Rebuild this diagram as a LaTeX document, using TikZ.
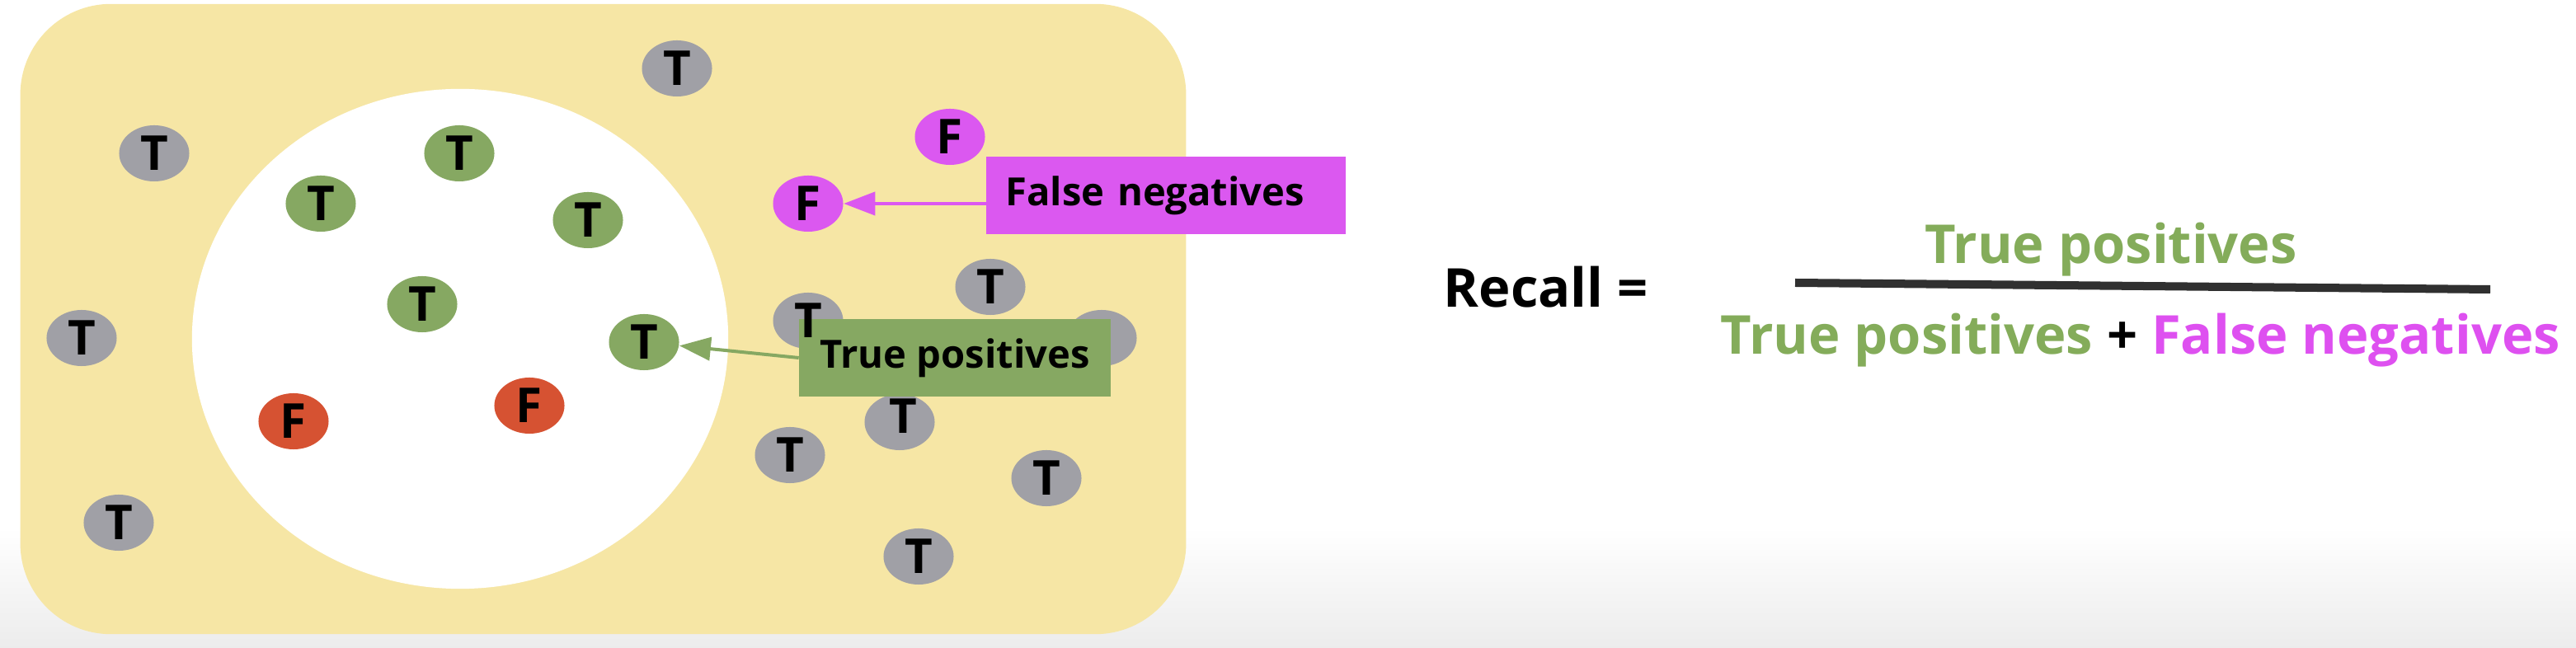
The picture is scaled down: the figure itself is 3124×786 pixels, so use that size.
\documentclass[tikz,border=0pt]{standalone}
\usepackage{fontspec}
\setmainfont{Open Sans}
\usetikzlibrary{arrows.meta,positioning,shapes.geometric}
\definecolor{yc}{RGB}{246,230,165}
\definecolor{gyc}{RGB}{160,160,166}
\definecolor{gnc}{RGB}{134,168,98}
\definecolor{puc}{RGB}{219,88,240}
\definecolor{rdc}{RGB}{214,82,50}
\definecolor{tpc}{RGB}{132,172,90}
\definecolor{fnc}{RGB}{222,80,240}
\definecolor{barc}{RGB}{48,48,48}
\definecolor{fadec}{RGB}{236,236,236}
\tikzset{dot/.style={ellipse,minimum width=8.5mm,minimum height=6.8mm,inner sep=0pt,font=\bfseries\fontsize{16.6}{18}\selectfont},
 gy/.style={dot,fill=gyc},gn/.style={dot,fill=gnc},pu/.style={dot,fill=puc},rd/.style={dot,fill=rdc},
 tag/.style={rectangle,minimum height=9.3mm,inner ysep=0pt,font=\bfseries\fontsize{13.4}{15}\selectfont},
 arr/.style={-{Triangle[length=3.8mm,width=2.8mm]},line width=.4mm},
 eq/.style={inner sep=0pt,font=\bfseries\fontsize{18.5}{20}\selectfont}}
\begin{document}
\begin{tikzpicture}[x=.01cm,y=-.01cm]
\useasboundingbox (0,0) rectangle (3124,786);
\shade[top color=white,bottom color=fadec] (0,640) rectangle (3124,786);
\node[rectangle,rounded corners=11mm,fill=yc,minimum width=14.13cm,minimum height=7.64cm,inner sep=0pt] (pool) at (731.5,387) {};
\node[ellipse,fill=white,minimum width=6.5cm,minimum height=6.06cm,inner sep=0pt] (sel) at (558,411) {};
\node[gy] (t1) at (821,83) {T};\node[gy] (t2) at (187,186) {T};\node[gy] (t3) at (99,410) {T};\node[gy] (t4) at (144,634) {T};
\node[gy] (t5) at (1201,348) {T};\node[gy] (t6) at (958,552) {T};\node[gy] (t7) at (1269,580) {T};\node[gy] (t8) at (1114,675) {T};
\node[gy] (t9) at (980,389) {};\node[gy] (t10) at (1091,512) {};\node[gy] (t11) at (1336,410) {};
\node[gn] (g1) at (557,186) {T};\node[gn] (g2) at (389,247) {T};\node[gn] (g3) at (713,267) {T};
\node[gn] (g4) at (512,369) {T};\node[gn] (g5) at (781,415) {T};
\node[pu] (f1) at (1152,166) {F};\node[pu] (f2) at (980,247) {F};
\node[rd] (r1) at (356,511) {F};\node[rd] (r2) at (642,492) {F};
\node[tag,fill=puc,text width=3.89cm,align=left,inner xsep=2.3mm] (fn) at (1414,237) {False negatives};
\node[tag,fill=gnc,minimum width=3.77cm,inner xsep=0pt] (tp) at (1158,434) {True positives};
\node[dot] (t9l) at (t9) {T};\node[dot] (t10l) at (1095,505) {T};
\draw[arr,puc] (fn.west |- f2) -- (f2);
\draw[arr,gnc] (tp.west) -- (g5);
\node[eq,anchor=base west] (rc) at (1750,373) {Recall =};
\node[eq,anchor=base,text=tpc] (num) at (2560,320) {True positives};
\coordinate (b1) at (2177,343);\coordinate (b2) at (3020,351);
\draw[line width=1mm,barc] (b1) -- (b2);
\node[eq,anchor=base west] (den) at (2086,430) {\color{tpc}True positives \color{black}+ \color{fnc}False negatives};
\end{tikzpicture}
\end{document}
